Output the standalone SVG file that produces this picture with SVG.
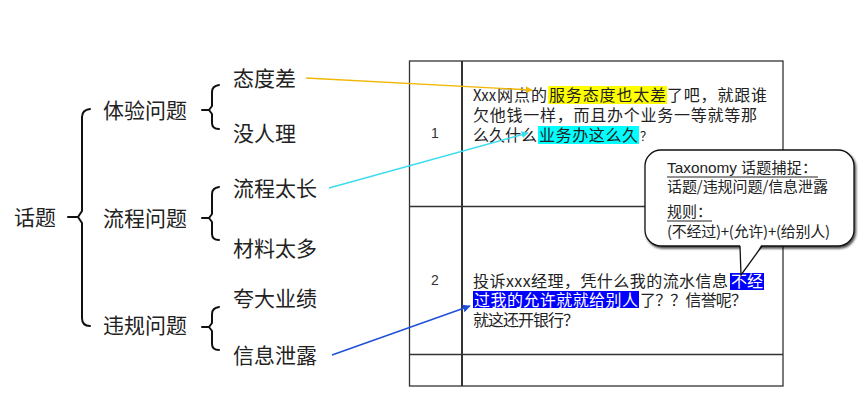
<svg xmlns="http://www.w3.org/2000/svg" width="866" height="416" viewBox="0 0 866 416">
<style>
.t{font-family:"Noto Sans CJK SC","Liberation Sans",sans-serif;fill:#222}
.tree{font-size:21px}
.row{font-size:16px}
.num{font-family:"Liberation Sans","Noto Sans CJK SC",sans-serif;font-size:14px;fill:#333}
.call{font-size:15px}
.brace{fill:none;stroke:#111;stroke-width:2;stroke-linejoin:round;stroke-linecap:round}
.tbl{fill:none;stroke:#333;stroke-width:1.3}
.conn{fill:none;stroke-width:1.4}
.wt{fill:#fff}
</style>
<defs>
<marker id="ay" viewBox="0 0 10 10" refX="9" refY="5" markerWidth="7" markerHeight="7" orient="auto" markerUnits="userSpaceOnUse"><path d="M0,0 L10,5 L0,10 z" fill="#F2B705"/></marker>
<marker id="ac" viewBox="0 0 10 10" refX="9" refY="5" markerWidth="7" markerHeight="7" orient="auto" markerUnits="userSpaceOnUse"><path d="M0,0 L10,5 L0,10 z" fill="#3ADCF0"/></marker>
<marker id="ab" viewBox="0 0 10 10" refX="9" refY="5" markerWidth="8" markerHeight="8" orient="auto" markerUnits="userSpaceOnUse"><path d="M0,0 L10,5 L0,10 z" fill="#1E4FD8"/></marker>
<filter id="sh" x="-10%" y="-10%" width="130%" height="130%"><feDropShadow dx="1.5" dy="2" stdDeviation="0.8" flood-color="#000" flood-opacity="0.7"/></filter>
</defs>
<rect width="866" height="416" fill="#fff"/>

<g id="tree">
  <g id="root"><text class="t tree" x="14" y="225" font-size="20">话题</text>
    <path class="brace" d="M68,217 L78,217 M90,109 Q82,110 82,117 L82,211 L78,217 L82,223 L82,318 Q82,326 90,326"/></g>
  <g id="n-tiyan"><text class="t tree" x="103" y="118">体验问题</text>
    <path class="brace" d="M202,110 L209,110 M219,85 Q212,86 212,92 L212,106 L209,110 L212,114 L212,123 Q212,129 219,129"/></g>
  <g id="n-liucheng"><text class="t tree" x="103" y="226">流程问题</text>
    <path class="brace" d="M202,218 L209,218 M219,187 Q212,188 212,194 L212,214 L209,218 L212,222 L212,234 Q212,240 219,240"/></g>
  <g id="n-weigui"><text class="t tree" x="103" y="333">违规问题</text>
    <path class="brace" d="M202,327 L209,327 M219,307 Q212,308 212,314 L212,323 L209,327 L212,331 L212,344 Q212,350 219,350"/></g>
  <g id="l-taidu"><text class="t tree" x="233" y="86">态度差</text></g>
  <g id="l-meiren"><text class="t tree" x="233" y="141">没人理</text></g>
  <g id="l-liucheng"><text class="t tree" x="233" y="196">流程太长</text></g>
  <g id="l-cailiao"><text class="t tree" x="233" y="256">材料太多</text></g>
  <g id="l-kuada"><text class="t tree" x="233" y="306">夸大业绩</text></g>
  <g id="l-xinxi"><text class="t tree" x="233" y="363">信息泄露</text></g>
</g>

<g id="table">
  <rect class="tbl" x="409.5" y="61" width="373.5" height="325"/>
  <line class="tbl" x1="409.5" y1="206.5" x2="783" y2="206.5"/>
  <line class="tbl" x1="409.5" y1="354.5" x2="783" y2="354.5"/>
  <line x1="462" y1="61" x2="462" y2="386" stroke="#333" stroke-width="2"/>
  <text class="num" x="431" y="138">1</text>
  <text class="num" x="431" y="285">2</text>
</g>

<g id="row1">
  <rect x="548" y="86" width="119" height="18" fill="#FFFF00"/>
  <rect x="538" y="126" width="101" height="18" fill="#00FFFF"/>
  <text class="t row"><tspan x="473" y="101" textLength="23" lengthAdjust="spacingAndGlyphs">Xxx</tspan><tspan x="497" y="101" textLength="50">网点的</tspan><tspan x="549" y="101" textLength="117">服务态度也太差</tspan><tspan x="667" y="101" textLength="100">了吧，就跟谁</tspan><tspan x="473" y="121" textLength="284">欠他钱一样，而且办个业务一等就等那</tspan><tspan x="473" y="141" textLength="64">么久什么</tspan><tspan x="539" y="141" textLength="99">业务办这么久</tspan><tspan x="640" y="141" font-size="12">？</tspan></text>
</g>

<g id="row2">
  <rect x="730" y="273" width="34" height="17" fill="#0000FF"/>
  <rect x="473" y="291" width="166" height="17" fill="#0000FF"/>
  <text class="t row"><tspan x="473" y="287" textLength="255">投诉xxx经理，凭什么我的流水信息</tspan><tspan x="731" y="287" textLength="32" class="wt">不经</tspan><tspan x="474" y="306" textLength="164" class="wt">过我的允许就就给别人</tspan><tspan x="640" y="306" textLength="107">了？？信誉呢？</tspan><tspan x="473" y="326" textLength="106">就这还开银行？</tspan></text>
</g>

<g id="connectors">
  <line class="conn" x1="306" y1="78" x2="532" y2="90" stroke="#F2B705" marker-end="url(#ay)"/>
  <line class="conn" x1="329" y1="188" x2="528" y2="133" stroke="#3ADCF0" marker-end="url(#ac)"/>
  <line class="conn" x1="332" y1="355" x2="470" y2="306" stroke="#1E4FD8" marker-end="url(#ab)"/>
</g>

<g id="callout">
  <rect x="645" y="150" width="209" height="96" rx="16" fill="#fff" stroke="#111" stroke-width="1.3" filter="url(#sh)"/>
  <polygon points="740,244 762,244 741,275" fill="#fff"/>
  <path d="M740,246 L741,275 L762,246" fill="none" stroke="#111" stroke-width="1.3"/>
  <text class="t call"><tspan x="667" y="173" font-family="Liberation Sans,sans-serif" textLength="70" lengthAdjust="spacingAndGlyphs">Taxonomy</tspan><tspan x="741" y="173" textLength="76">话题捕捉：</tspan><tspan x="667" y="192" textLength="161">话题/违规问题/信息泄露</tspan><tspan x="667" y="217">规则：</tspan><tspan x="667" y="237" textLength="163">(不经过)+(允许)+(给别人)</tspan></text>
  <line x1="667" y1="177" x2="818" y2="177" stroke="#222" stroke-width="1"/>
  <line x1="667" y1="221" x2="712" y2="221" stroke="#222" stroke-width="1"/>
</g>
</svg>
